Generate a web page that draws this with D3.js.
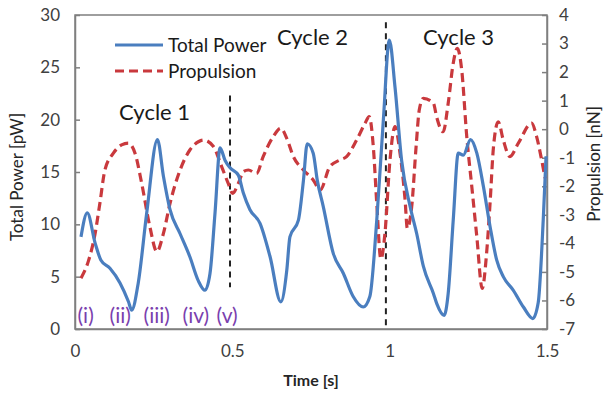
<!DOCTYPE html>
<html>
<head>
<meta charset="utf-8">
<script src="https://cdn.jsdelivr.net/npm/d3@7"></script>
<style>
  body { margin: 0; background: #fff; }
  text { font-family: Lato, "Open Sans", sans-serif; }
</style>
</head>
<body>
<div id="vis"></div>
<script>
// Total power and propulsion over three cycles

const FRAME_WIDTH = 611;
const FRAME_HEIGHT = 395;
const MARGINS = {left: 75, right: 64, top: 15, bottom: 66};

const VIS_WIDTH = FRAME_WIDTH - MARGINS.left - MARGINS.right;
const VIS_HEIGHT = FRAME_HEIGHT - MARGINS.top - MARGINS.bottom;

// data
const powerTime = [0.019, 0.039, 0.064, 0.082, 0.111, 0.143, 0.170, 0.180, 0.201, 0.228,
  0.262, 0.281, 0.302, 0.334, 0.365, 0.392, 0.413, 0.429, 0.445, 0.461,
  0.477, 0.493, 0.519, 0.535, 0.556, 0.588, 0.620, 0.654, 0.673, 0.683,
  0.710, 0.726, 0.738, 0.757, 0.770, 0.789, 0.821, 0.853, 0.884, 0.916,
  0.937, 0.959, 0.980, 0.999, 1.017, 1.038, 1.065, 1.086, 1.107, 1.139,
  1.150, 1.173, 1.186, 1.202, 1.218, 1.234, 1.257, 1.277, 1.298, 1.319,
  1.340, 1.361, 1.393, 1.425, 1.455, 1.472, 1.488, 1.497];
const powerValues = [8.8, 11.1, 8.2, 6.6, 5.8, 4.4, 2.6, 1.8, 4.4, 11.1,
  18.1, 14.6, 11.4, 9.1, 6.9, 4.6, 3.7, 5.3, 11.1, 17.3,
  16.1, 15.4, 14.7, 13.0, 11.4, 10.1, 6.9, 2.6, 5.6, 8.8,
  10.4, 14.2, 17.7, 16.8, 14.2, 11.7, 7.2, 5.3, 3.1, 2.1,
  3.1, 10.4, 20.0, 27.6, 23.1, 16.1, 11.7, 9.1, 6.0, 3.4,
  2.4, 1.3, 3.4, 10.4, 16.8, 16.6, 18.1, 16.8, 13.6, 9.8,
  6.6, 5.0, 3.7, 2.1, 1.0, 2.5, 10.4, 16.5];

const propTime = [0.019, 0.042, 0.064, 0.079, 0.095, 0.122, 0.148, 0.170, 0.191, 0.212,
  0.238, 0.260, 0.281, 0.302, 0.334, 0.365, 0.392, 0.408, 0.440, 0.466,
  0.487, 0.501, 0.519, 0.535, 0.551, 0.577, 0.598, 0.630, 0.654, 0.673,
  0.694, 0.726, 0.757, 0.779, 0.810, 0.842, 0.863, 0.895, 0.922, 0.935,
  0.948, 0.959, 0.972, 0.985, 1.001, 1.017, 1.033, 1.049, 1.056, 1.070,
  1.084, 1.094, 1.107, 1.139, 1.149, 1.170, 1.186, 1.202, 1.215, 1.229,
  1.245, 1.261, 1.277, 1.294, 1.308, 1.319, 1.330, 1.345, 1.361, 1.382,
  1.409, 1.451, 1.467, 1.483, 1.494];
const propValues = [-5.22, -4.64, -3.65, -2.60, -1.43, -0.84, -0.55, -0.49, -0.85, -1.90,
  -3.42, -4.29, -3.65, -2.60, -1.43, -0.73, -0.44, -0.38, -0.61, -1.31,
  -1.90, -2.25, -1.90, -1.49, -1.43, -1.55, -0.96, -0.26, 0.03, -0.32,
  -0.96, -1.43, -1.78, -2.13, -1.31, -1.08, -0.96, -0.38, 0.21, 0.44,
  -0.61, -2.60, -4.55, -3.65, -1.08, 0.09, -0.85, -2.48, -3.47, -2.72,
  -0.61, 0.67, 1.08, 0.91, 0.44, -0.09, 0.91, 2.31, 2.83, 2.07,
  -0.26, -2.01, -3.77, -5.58, -4.35, -2.60, -0.61, 0.26, -0.38, -0.96,
  -0.49, 0.21, -0.26, -1.08, -1.72];

const xTicks = [0, 0.5, 1, 1.5];
const xTickLabels = ["0", "0.5", "1", "1.5"];
const powerTicks = [0, 5, 10, 15, 20, 25, 30];
const propTicks = [-7, -6, -5, -4, -3, -2, -1, 0, 1, 2, 3, 4];

const cycleBounds = [0.4926, 0.988];
const cycleLabels = [
  {label: "Cycle 1", t: 0.140, p: 20.0},
  {label: "Cycle 2", t: 0.642, p: 27.1},
  {label: "Cycle 3", t: 1.106, p: 27.1}
];
const phaseLabels = [
  {label: "(i)", t: 0.008},
  {label: "(ii)", t: 0.110},
  {label: "(iii)", t: 0.218},
  {label: "(iv)", t: 0.342},
  {label: "(v)", t: 0.450}
];

const BLUE = "#4a7ebf";
const RED = "#c9393d";

const FRAME = d3.select("#vis")
                .append("svg")
                  .attr("width", FRAME_WIDTH)
                  .attr("height", FRAME_HEIGHT);

const X_SCALE = d3.scaleLinear().domain([0, 1.5]).range([0, VIS_WIDTH]);
const Y_LEFT = d3.scaleLinear().domain([0, 30]).range([VIS_HEIGHT, 0]);
const Y_RIGHT = d3.scaleLinear().domain([-7, 4]).range([VIS_HEIGHT, 0]);

const G = FRAME.append("g")
               .attr("transform", "translate(" + MARGINS.left + "," + MARGINS.top + ")");

// frame box
G.append("rect")
  .attr("x", 0).attr("y", 0)
  .attr("width", VIS_WIDTH).attr("height", VIS_HEIGHT)
  .attr("fill", "none")
  .attr("stroke", "#7f7f7f")
  .attr("stroke-width", 1.5);

// axes
const leftAxis = G.append("g")
  .call(d3.axisLeft(Y_LEFT).tickValues(powerTicks).tickSizeInner(-5).tickSizeOuter(0).tickPadding(15));
const rightAxis = G.append("g")
  .attr("transform", "translate(" + VIS_WIDTH + ",0)")
  .call(d3.axisRight(Y_RIGHT).tickValues(propTicks).tickSizeInner(-5).tickSizeOuter(0).tickPadding(12)
        .tickFormat((d) => { return d < 0 ? "-" + Math.abs(d) : String(d); }));
const bottomAxis = G.append("g")
  .attr("transform", "translate(0," + VIS_HEIGHT + ")")
  .call(d3.axisBottom(X_SCALE).tickValues(xTicks).tickSize(0).tickPadding(16)
        .tickFormat((d, i) => { return xTickLabels[i]; }));

[leftAxis, rightAxis, bottomAxis].forEach((a) => {
  a.select(".domain").attr("stroke", "#7f7f7f").attr("stroke-width", 1.5);
  a.selectAll(".tick line").attr("stroke", "#7f7f7f").attr("stroke-width", 1.5);
  a.selectAll("text").attr("font-size", "17px").attr("fill", "#404040")
    .attr("font-family", "Lato, 'Open Sans', sans-serif");
});

// cycle separators
G.selectAll(".sep")
  .data(cycleBounds)
  .enter()
  .append("line")
    .attr("x1", (d) => { return X_SCALE(d); })
    .attr("x2", (d) => { return X_SCALE(d); })
    .attr("y1", (d, i) => { return i === 0 ? Y_LEFT(22.3) : Y_LEFT(29.3); })
    .attr("y2", (d, i) => { return i === 0 ? Y_LEFT(4.0) : Y_LEFT(0); })
    .attr("stroke", "#222")
    .attr("stroke-width", 2)
    .attr("stroke-dasharray", "6,5");

// curves
const powerData = powerTime.map((t, i) => { return [t, powerValues[i]]; });
const propData = propTime.map((t, i) => { return [t, propValues[i]]; });

const powerLine = d3.line()
  .x((d) => { return X_SCALE(d[0]); })
  .y((d) => { return Y_LEFT(d[1]); })
  .curve(d3.curveMonotoneX);
const propLine = d3.line()
  .x((d) => { return X_SCALE(d[0]); })
  .y((d) => { return Y_RIGHT(d[1]); })
  .curve(d3.curveMonotoneX);

G.append("path")
  .datum(propData)
  .attr("d", propLine)
  .attr("fill", "none")
  .attr("stroke", RED)
  .attr("stroke-width", 3.2)
  .attr("stroke-dasharray", "9,5");

G.append("path")
  .datum(powerData)
  .attr("d", powerLine)
  .attr("fill", "none")
  .attr("stroke", BLUE)
  .attr("stroke-width", 3.2)
  .attr("stroke-linejoin", "round");

// cycle labels
G.selectAll(".cycle")
  .data(cycleLabels)
  .enter()
  .append("text")
    .attr("x", (d) => { return X_SCALE(d.t); })
    .attr("y", (d) => { return Y_LEFT(d.p); })
    .attr("font-size", "22px")
    .attr("fill", "#1a1a1a")
    .text((d) => { return d.label; });

// phase labels
G.selectAll(".phase")
  .data(phaseLabels)
  .enter()
  .append("text")
    .attr("x", (d) => { return X_SCALE(d.t); })
    .attr("y", VIS_HEIGHT - 6)
    .attr("font-size", "21px")
    .attr("fill", "#7a3fae")
    .text((d) => { return d.label; });

// legend
const legend = G.append("g").attr("transform", "translate(40,30)");
legend.append("line")
  .attr("x1", 0).attr("x2", 48).attr("y1", 0).attr("y2", 0)
  .attr("stroke", BLUE).attr("stroke-width", 3.2);
legend.append("text")
  .attr("x", 53).attr("y", 7)
  .attr("font-size", "19px").attr("fill", "#1a1a1a")
  .text("Total Power");
legend.append("line")
  .attr("x1", 0).attr("x2", 48).attr("y1", 26).attr("y2", 26)
  .attr("stroke", RED).attr("stroke-width", 3.2)
  .attr("stroke-dasharray", "9,5");
legend.append("text")
  .attr("x", 53).attr("y", 33)
  .attr("font-size", "19px").attr("fill", "#1a1a1a")
  .text("Propulsion");

// axis titles
FRAME.append("text")
  .attr("transform", "translate(23," + (MARGINS.top + VIS_HEIGHT / 2 + 5) + ") rotate(-90)")
  .attr("text-anchor", "middle")
  .attr("font-size", "17px")
  .attr("fill", "#262626")
  .text("Total Power [pW]");

FRAME.append("text")
  .attr("transform", "translate(600," + (MARGINS.top + VIS_HEIGHT / 2 - 8) + ") rotate(-90)")
  .attr("text-anchor", "middle")
  .attr("font-size", "17px")
  .attr("fill", "#262626")
  .text("Propulsion [nN]");

FRAME.append("text")
  .attr("x", 311)
  .attr("y", 386)
  .attr("text-anchor", "middle")
  .attr("font-size", "16px")
  .attr("font-weight", "bold")
  .attr("fill", "#262626")
  .text("Time [s]");
</script>
</body>
</html>
